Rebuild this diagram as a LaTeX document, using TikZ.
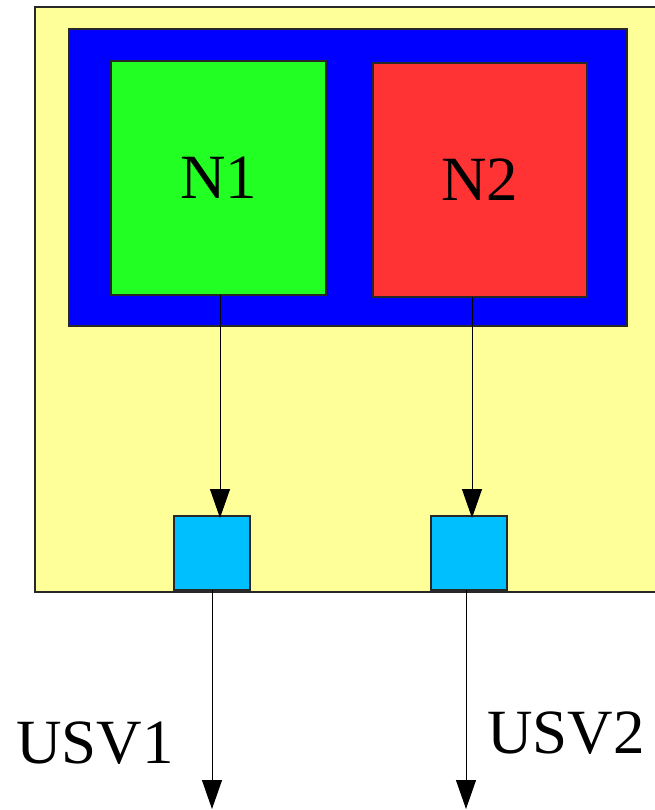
\documentclass[tikz,border=0pt]{standalone}
\usepackage{fontspec}
\setmainfont{Liberation Serif}
\usetikzlibrary{arrows.meta}
\definecolor{sysyellow}{RGB}{255,255,153}
\definecolor{grpblue}{RGB}{0,0,255}
\definecolor{nodegreen}{RGB}{34,255,34}
\definecolor{nodered}{RGB}{255,51,51}
\definecolor{portcyan}{RGB}{0,191,255}
\definecolor{edgegray}{RGB}{40,40,40}
\tikzset{
  box/.style={draw=edgegray, line width=1.3pt, rectangle, inner sep=0pt, outer sep=0pt},
  bigtext/.style={font=\fontsize{63}{76}\selectfont},
  conn/.style={draw=black, line width=1pt, -{Triangle[width=20pt,length=29pt]}, shorten >=-2pt},
}
\begin{document}
\begin{tikzpicture}[x=1pt,y=-1pt]
\useasboundingbox (0,0) rectangle (654,810);
\node[box, fill=sysyellow, minimum width=623pt, minimum height=585pt] (sys) at (346.5,299.5) {};
\node[box, fill=grpblue, minimum width=558pt, minimum height=297pt] (grp) at (348,177.5) {};
\node[box, fill=nodegreen, minimum width=215pt, minimum height=234pt, bigtext] (n1) at (218.5,178) {N1};
\node[box, fill=nodered, minimum width=214pt, minimum height=234pt, bigtext] (n2) at (480,180) {N2};
\node[box, fill=portcyan, minimum width=76pt, minimum height=74pt] (u1) at (212,553) {};
\node[box, fill=portcyan, minimum width=76pt, minimum height=74pt] (u2) at (469,553) {};
\coordinate (a1) at ([xshift=1.5pt]n1.south);
\coordinate (a2) at ([xshift=-8pt]n2.south);
\draw[conn] (a1) -- (a1 |- u1.north);
\draw[conn] (a2) -- (a2 |- u2.north);
\coordinate (e1) at (213,809);
\coordinate (e2) at (466,809);
\draw[conn, shorten >=0pt] (u1.south) -- (u1.south |- e1);
\draw[conn, shorten >=0pt] ([xshift=-3pt]u2.south) -- ([xshift=-3pt]u2.south |- e2);
\node[bigtext, anchor=base, inner sep=0pt] (l1) at (95,763) {USV1};
\node[bigtext, anchor=base, inner sep=0pt] (l2) at (566,753) {USV2};
\end{tikzpicture}
\end{document}
